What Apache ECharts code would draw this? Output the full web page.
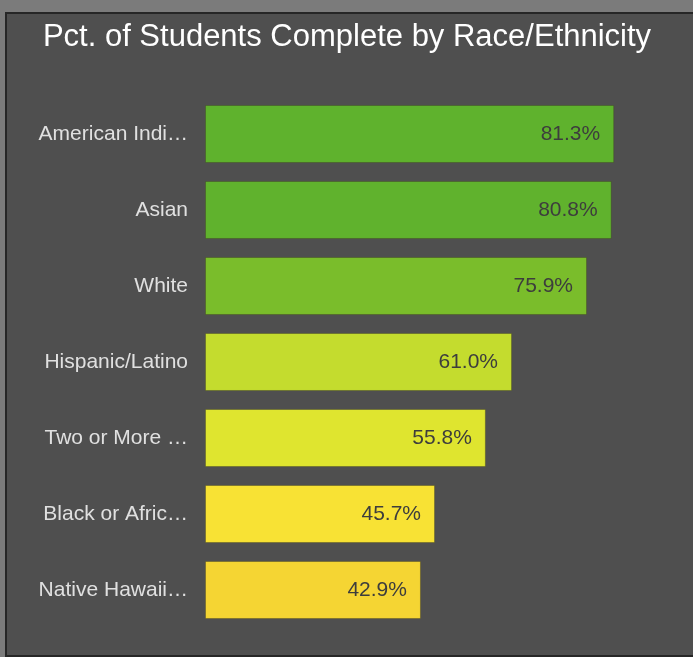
<!DOCTYPE html>
<html>
<head>
<meta charset="utf-8">
<script src="https://cdn.jsdelivr.net/npm/echarts@6/dist/echarts.min.js"></script>
<style>
  html, body { margin: 0; padding: 0; width: 693px; height: 657px; overflow: hidden; background: #7b7b7b; }
  #panel { position: absolute; left: 5px; top: 12px; width: 686px; height: 641px; background: #4f4f4f;
           border-left: 2px solid #262626; border-top: 2px solid #262626; border-bottom: 2px solid #262626; }
  #chart { position: absolute; left: 0; top: 0; width: 693px; height: 657px; }
</style>
</head>
<body>
<div id="panel"></div>
<div id="chart"></div>
<script>
const titleText = 'Pct. of Students Complete by Race/Ethnicity';
const categories = ['American Indi…', 'Asian', 'White', 'Hispanic/Latino', 'Two or More …', 'Black or Afric…', 'Native Hawaii…'];
const values = [81.3, 80.8, 75.9, 61.0, 55.8, 45.7, 42.9];
const barColors = ['#5fb22d', '#60b22d', '#7abd2b', '#c4dc2e', '#dfe52f', '#f8e234', '#f5d533'];

const chart = echarts.init(document.getElementById('chart'), null, { renderer: 'canvas' });
chart.setOption({
  backgroundColor: 'transparent',
  animation: false,
  title: {
    text: titleText,
    left: 342, textAlign: 'center',
    top: 17,
    textStyle: { color: '#ffffff', fontSize: 31, fontWeight: 'normal', fontFamily: 'Liberation Sans, Arial, sans-serif' }
  },
  grid: { left: 205, right: 35, top: 96, bottom: 29, containLabel: false },
  xAxis: {
    type: 'value', min: 0, max: 90, show: false,
    splitLine: { show: false }
  },
  yAxis: {
    type: 'category', data: categories, inverse: true,
    axisLine: { show: false }, axisTick: { show: false },
    axisLabel: { color: '#e0e0e0', fontSize: 21, margin: 17, fontFamily: 'Liberation Sans, Arial, sans-serif' }
  },
  series: [{
    type: 'bar',
    data: values.map((v, i) => ({ value: v, itemStyle: { color: barColors[i] } })),
    barCategoryGap: '23.7%',
    itemStyle: { borderColor: 'rgba(60,60,30,0.35)', borderWidth: 1 },
    label: {
      show: true, position: 'insideRight', distance: 14,
      formatter: p => p.value.toFixed(1) + '%',
      color: '#3d3d3d', fontSize: 21, fontFamily: 'Liberation Sans, Arial, sans-serif'
    }
  }]
});
</script>
</body>
</html>
